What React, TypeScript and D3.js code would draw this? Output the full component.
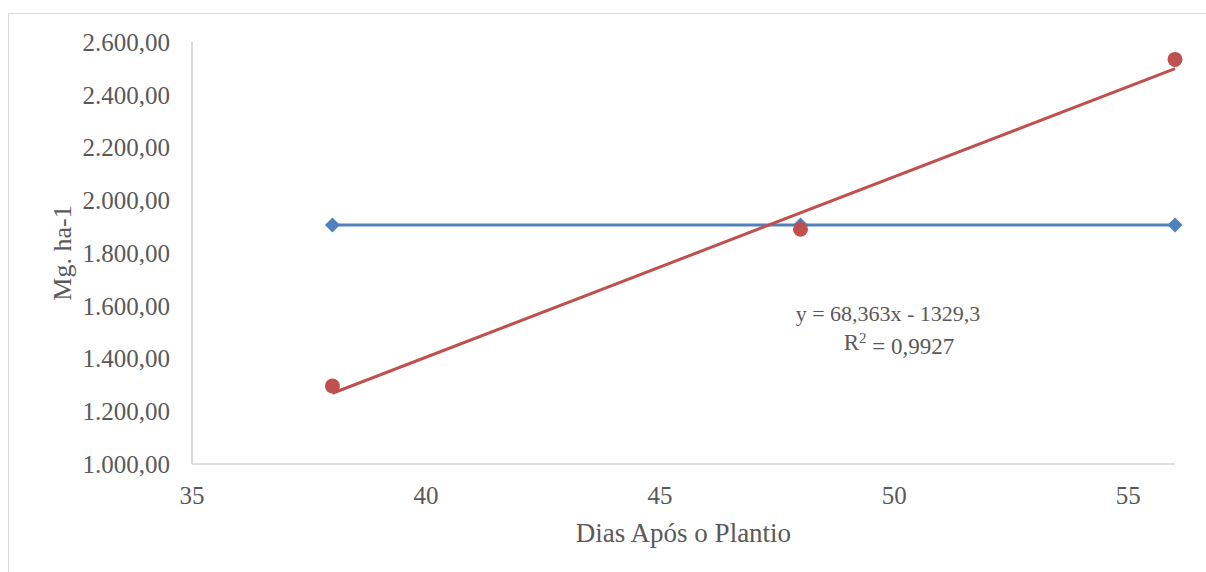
import React from "react";
import * as d3 from "d3";

const days = [38, 48, 56];
const seriesBlue = [1906, 1906, 1906];
const seriesRed = [1296, 1890, 2534];
const yTicks = [1000, 1200, 1400, 1600, 1800, 2000, 2200, 2400, 2600];
const xTicks = [35, 40, 45, 50, 55];
const equationLines = ["y = 68,363x - 1329,3", "R² = 0,9927"];
const xTitle = "Dias Após o Plantio";
const yTitle = "Mg. ha-1";

const W = 1206;
const H = 572;
const FONT = "'Liberation Serif', serif";
const TXT = "#595959";
const BLUE = "#4F81BD";
const RED = "#C0504D";

const fmt = (v: number) => {
  const s = d3.format(",.2f")(v);
  return s.replace(/,/g, "#").replace(".", ",").replace(/#/g, ".");
};

const diamondPath = (r: number) => {
  const p = d3.path();
  p.moveTo(0, -r);
  p.lineTo(r, 0);
  p.lineTo(0, r);
  p.lineTo(-r, 0);
  p.closePath();
  return p.toString();
};

export default function App() {
  const x = d3.scaleLinear().domain([35, 56]).range([192, 1175]);
  const y = d3.scaleLinear().domain([1000, 2600]).range([464, 42]);

  const mx = d3.mean(days)!;
  const my = d3.mean(seriesRed)!;
  let sxy = 0, sxx = 0;
  days.forEach((d, i) => {
    sxy += (d - mx) * (seriesRed[i] - my);
    sxx += (d - mx) * (d - mx);
  });
  const slope = sxy / sxx;
  const icpt = my - slope * mx;
  const trend = [days[0], days[days.length - 1]].map((d) => [d, slope * d + icpt] as [number, number]);

  const line = d3.line<[number, number]>().x((d) => x(d[0])).y((d) => y(d[1]));
  const blueData = days.map((d, i) => [d, seriesBlue[i]] as [number, number]);
  const diamond = diamondPath(7.5);

  return (
    <svg width={W} height={H} style={{ position: "absolute", left: 0, top: 0, background: "#fff" }} fontFamily={FONT}>
      <rect x={8.5} y={13.5} width={1210} height={600} fill="#fff" stroke="#d9d9d9" strokeWidth={1} />
      <line x1={x(35)} x2={x(35)} y1={y(2600)} y2={y(1000)} stroke="#bfbfbf" strokeWidth={1.2} />
      <line x1={x(35)} x2={x(56)} y1={y(1000)} y2={y(1000)} stroke="#bfbfbf" strokeWidth={1.2} />
      {yTicks.map((t) => (
        <text key={t} x={170} y={y(t)} dy="0.35em" textAnchor="end" fontSize={25} fill={TXT}>
          {fmt(t)}
        </text>
      ))}
      {xTicks.map((t) => (
        <text key={t} x={x(t)} y={495} dy="0.35em" textAnchor="middle" fontSize={25} fill={TXT}>
          {t}
        </text>
      ))}
      <text x={(x(35) + x(56)) / 2} y={533} dy="0.35em" textAnchor="middle" fontSize={27} fill={TXT}>
        {xTitle}
      </text>
      <text transform={`translate(62,${(y(2600) + y(1000)) / 2}) rotate(-90)`} dy="0.35em" textAnchor="middle" fontSize={26} fill={TXT}>
        {yTitle}
      </text>
      <path d={line(blueData)!} fill="none" stroke={BLUE} strokeWidth={3} />
      {blueData.map((d, i) => (
        <path key={i} d={diamond} transform={`translate(${x(d[0])},${y(d[1])})`} fill={BLUE} />
      ))}
      <path d={line(trend)!} fill="none" stroke={RED} strokeWidth={3} />
      {days.map((d, i) => (
        <circle key={i} cx={x(d)} cy={y(seriesRed[i])} r={7.5} fill={RED} />
      ))}
      <text x={888} y={313} dy="0.35em" textAnchor="middle" fontSize={22} fill={TXT}>
        {equationLines[0]}
      </text>
      <text x={899} y={342} dy="0.35em" textAnchor="middle" fontSize={23} fill={TXT}>
        R<tspan dy="-0.45em" fontSize={15}>2</tspan><tspan dy="0.45em">{" = 0,9927"}</tspan>
      </text>
    </svg>
  );
}
